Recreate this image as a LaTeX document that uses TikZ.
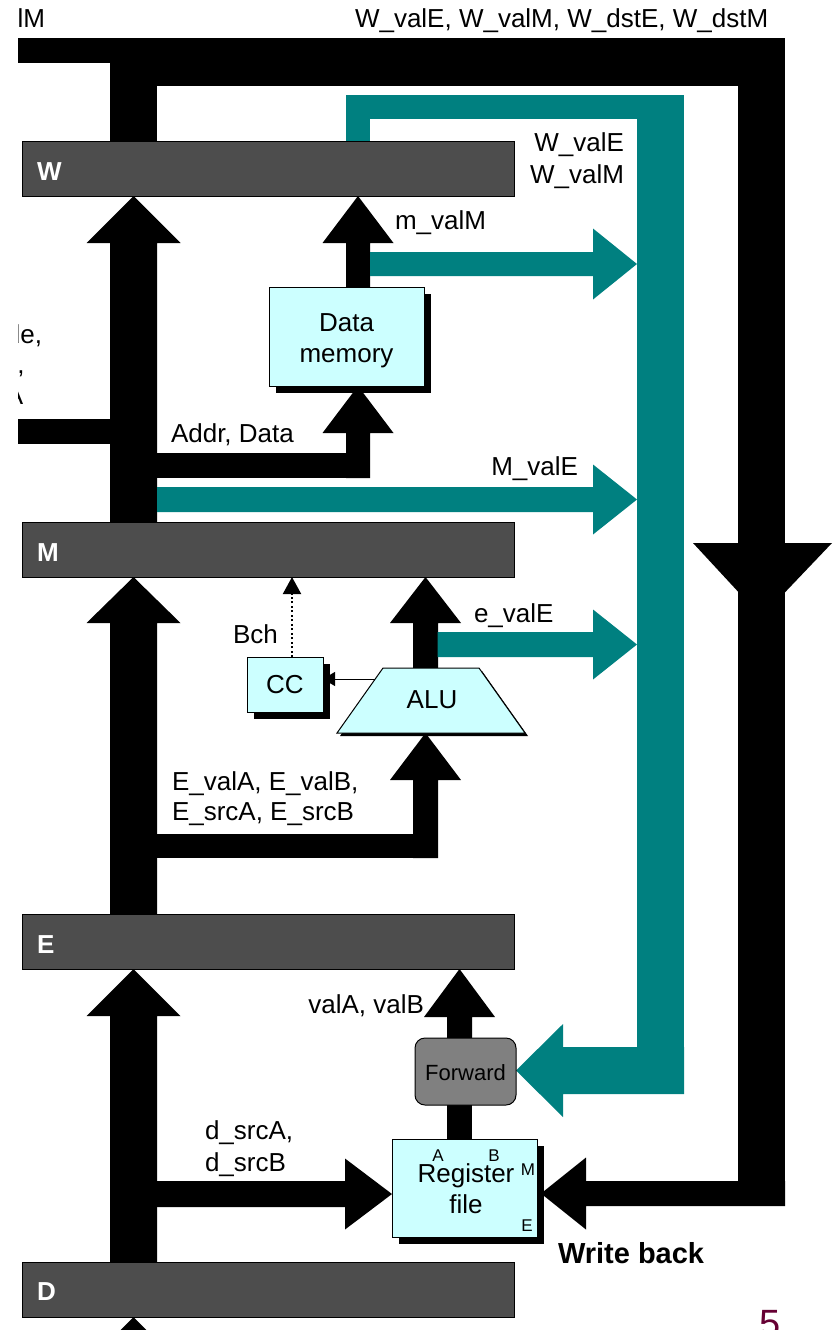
\documentclass[tikz,border=0pt]{standalone}
\usepackage{fontspec}
\setmainfont{Liberation Sans}
\usetikzlibrary{arrows.meta,calc,shadows}
\definecolor{tealbus}{HTML}{008080}
\definecolor{unitcyan}{HTML}{CCFFFF}
\definecolor{preggray}{HTML}{4D4D4D}
\definecolor{fwdgray}{HTML}{808080}
\definecolor{pagenum}{HTML}{660033}
\pgfdeclarelayer{bg}
\pgfsetlayers{bg,main}
% fat arrows: [colour]{tail}{tip}{half shaft}{half head}{head length}
\newcommand{\fatup}[6][black]{\fill[#1] let \p1=(#2), \p2=(#3) in
  (\x1-#4pt,\y1) -- (\x1-#4pt,\y2-#6pt) -- (\x1-#5pt,\y2-#6pt) -- (\x1,\y2) --
  (\x1+#5pt,\y2-#6pt) -- (\x1+#4pt,\y2-#6pt) -- (\x1+#4pt,\y1) -- cycle;}
\newcommand{\fatright}[6][black]{\fill[#1] let \p1=(#2), \p2=(#3) in
  (\x1,\y1+#4pt) -- (\x2-#6pt,\y1+#4pt) -- (\x2-#6pt,\y1+#5pt) -- (\x2,\y1) --
  (\x2-#6pt,\y1-#5pt) -- (\x2-#6pt,\y1-#4pt) -- (\x1,\y1-#4pt) -- cycle;}
\newcommand{\fatleft}[6][black]{\fill[#1] let \p1=(#2), \p2=(#3) in
  (\x1,\y1+#4pt) -- (\x2+#6pt,\y1+#4pt) -- (\x2+#6pt,\y1+#5pt) -- (\x2,\y1) --
  (\x2+#6pt,\y1-#5pt) -- (\x2+#6pt,\y1-#4pt) -- (\x1,\y1-#4pt) -- cycle;}
\begin{document}
\begin{tikzpicture}[x=1pt,y=-1pt,
  preg/.style={draw=black, line width=1pt, fill=preggray, minimum width=492pt,
    minimum height=55pt, anchor=north west, inner sep=0pt, outer sep=0pt},
  plab/.style={text=white, inner sep=0pt, anchor=base west,
    font=\bfseries\fontsize{26}{31}\selectfont},
  unitbox/.style={draw=black, line width=1pt, fill=unitcyan, anchor=north west,
    inner sep=0pt, outer sep=0pt,
    drop shadow={shadow xshift=7pt, shadow yshift=-7pt, opacity=1, fill=black}},
  fwdbox/.style={draw=black, line width=1pt, fill=fwdgray, rounded corners=10pt,
    anchor=north west, inner sep=0pt, outer sep=0pt},
  txt/.style={inner sep=0pt, outer sep=0pt, font=\fontsize{26}{31}\selectfont},
  smalltxt/.style={inner sep=0pt, outer sep=0pt, font=\fontsize{17}{20}\selectfont}]
\useasboundingbox (0,0) rectangle (833,1330);
\begin{scope}
\clip (18,0) rectangle (833,1330);
% ---------- pipeline registers ----------
\node[preg] (W) at (22,141) {};
\node[preg] (M) at (22,522) {};
\node[preg] (E) at (22,914) {};
\node[preg] (D) at (22,1262) {};
\node[plab] (Wl) at (37,180) {W};
\node[plab] (Ml) at (37,561) {M};
\node[plab] (El) at (37,953) {E};
\node[plab] (Dl) at (37,1300) {D};
% ---------- units ----------
\node[unitbox, minimum width=155pt, minimum height=99pt] (DM) at (269,287) {};
\node[unitbox, minimum width=76pt, minimum height=55pt] (CC) at (247,657) {};
\node[unitbox, minimum width=145pt, minimum height=98pt] (RF) at (392,1139) {};
\node[fwdbox, minimum width=101pt, minimum height=67pt] (FW) at (415,1038) {};
% ALU trapezoid
\fill[black] (340,736) -- (386,671) -- (482,671) -- (528,736) -- cycle;
\filldraw[fill=unitcyan, draw=black, line width=1pt]
  (337,733) -- (383,668) -- (479,668) -- (525,733) -- cycle;
\coordinate (alutop) at (425.5,668);
\coordinate (alubot) at (425.5,733);
% column coordinates
\coordinate (lbus) at (133.5,0);
\coordinate (dmx) at (358,0);
\coordinate (alux) at (425.5,0);
\coordinate (fwx) at (459.5,0);
\coordinate (wb) at (785,1193.5);
\coordinate (dsrc) at (157,1194);
\coordinate (addr) at (358,478);
\coordinate (ebar) at (425.5,858);
% ---------- buses ----------
\begin{pgfonlayer}{bg}
% black write-back bus
\fill (18,38) rectangle (110,63);
\fill (110,38) rectangle (157,142);
\fill (110,38) rectangle (785,86);
\fill (738,38) rectangle (785,1206);
\fill (693,543) -- (832,543) -- (761.5,617) -- cycle;
\fatleft{wb}{[xshift=4pt]RF.east}{12.5}{36}{45}
% left bus
\fill (18,419) rectangle (110,444);
\fatup{M.north -| lbus}{W.south -| lbus}{23.5}{47}{47}
\fatup{E.north -| lbus}{M.south -| lbus}{23.5}{47}{46}
\fatup{D.north -| lbus}{E.south -| lbus}{23.5}{47}{47}
\fatup{133.5,1400}{D.south -| lbus}{23.5}{47}{47}
% memory stage
\fill (157,453) rectangle (370,478);
\fatup{addr}{DM.south -| dmx}{12}{35.5}{47}
\fatup{DM.north -| dmx}{W.south -| dmx}{12}{35.5}{47}
% execute stage
\fill (157,834) rectangle (437.5,858);
\fatup{ebar}{alubot}{12.5}{35.5}{47}
\fatup{alutop}{M.south -| alux}{12.5}{35.5}{46}
% decode stage
\fatright{dsrc}{RF.west}{13}{35.5}{47}
\fill (447,1105) rectangle (472,1139);
\fatup{FW.north -| fwx}{E.south -| fwx}{12.5}{35.5}{48}
% forwarding paths (teal)
\fill[tealbus] (346,95) rectangle (684,119);
\fill[tealbus] (346,95) rectangle (370,142);
\fill[tealbus] (637,95) rectangle (684,1094);
\fatleft[tealbus]{684,1070.5}{FW.east}{23.5}{46.5}{47}
\fatright[tealbus]{370,264}{637,264}{12}{35.5}{44}
\fatright[tealbus]{157,499.5}{637,499.5}{12.5}{35}{44}
\fatright[tealbus]{437.5,644.5}{637,644.5}{12.5}{35}{44}
\end{pgfonlayer}
% CC connections
\draw[line width=1pt, -{Triangle[length=12pt,width=14pt]}] (375,679) -- (CC.east |- 0,679);
\draw[line width=2pt, dash pattern=on 2pt off 2.5pt, -{Triangle[length=17pt,width=18pt]}]
  ([xshift=7pt]CC.north) -- ([xshift=7pt]CC.north |- M.south);
% ---------- texts ----------
\node[txt, anchor=base east] (tl) at (45,28) {W\_valM};
\node[txt, anchor=base west] (tw) at (355,28) {W\_valE, W\_valM, W\_dstE, W\_dstM};
\node[txt, anchor=base east] (tw1) at (624,151) {W\_valE};
\node[txt, anchor=base east] (tw2) at (624,183) {W\_valM};
\node[txt, anchor=base west] (tmv) at (395,229) {m\_valM};
\node[txt, anchor=base west] (tm1) at (-63.5,343) {M\_icode,};
\node[txt, anchor=base west] (tm2) at (-63.5,373) {M\_Bch,};
\node[txt, anchor=base west] (tm3) at (-63.5,404) {M\_valA};
\node[txt, anchor=base west] (tad) at (171,442) {Addr, Data};
\node[txt, anchor=base east] (tMv) at (578,475) {M\_valE};
\node[txt, anchor=base west] (tev) at (474,622) {e\_valE};
\node[txt, anchor=base west] (tb) at (233,643) {Bch};
\node[txt, anchor=base west] (te1) at (172,790) {E\_valA, E\_valB,};
\node[txt, anchor=base west] (te2) at (172,820) {E\_srcA, E\_srcB};
\node[txt, anchor=base east] (tvv) at (424,1013) {valA, valB};
\node[txt, anchor=base west] (td1) at (205,1139) {d\_srcA,};
\node[txt, anchor=base west] (td2) at (205,1171) {d\_srcB};
\node[txt, anchor=base west, font=\bfseries\fontsize{29}{34}\selectfont] (twb) at (558,1263) {Write back};
\node[txt, anchor=base] (tdm1) at (346.5,331) {Data};
\node[txt, anchor=base] (tdm2) at (346.5,362) {memory};
\node[txt, anchor=base] (tcc) at (285,693) {CC};
\node[txt, anchor=base] (ALU) at (432,708) {ALU};
\node[txt, anchor=base] (trf1) at (466,1182) {Register};
\node[txt, anchor=base] (trf2) at (466,1213) {file};
\node[smalltxt, anchor=base] (tA) at (438,1161) {A};
\node[smalltxt, anchor=base] (tB) at (494,1161) {B};
\node[smalltxt, anchor=base] (tM) at (528,1175) {M};
\node[smalltxt, anchor=base] (tE) at (527,1231) {E};
\node[txt, anchor=base, font=\fontsize{22}{26}\selectfont] (tfw) at (465.5,1080) {Forward};
\node[txt, anchor=base west, text=pagenum, font=\fontsize{38}{44}\selectfont] (pg) at (759,1336) {5};
\end{scope}
\end{tikzpicture}
\end{document}
